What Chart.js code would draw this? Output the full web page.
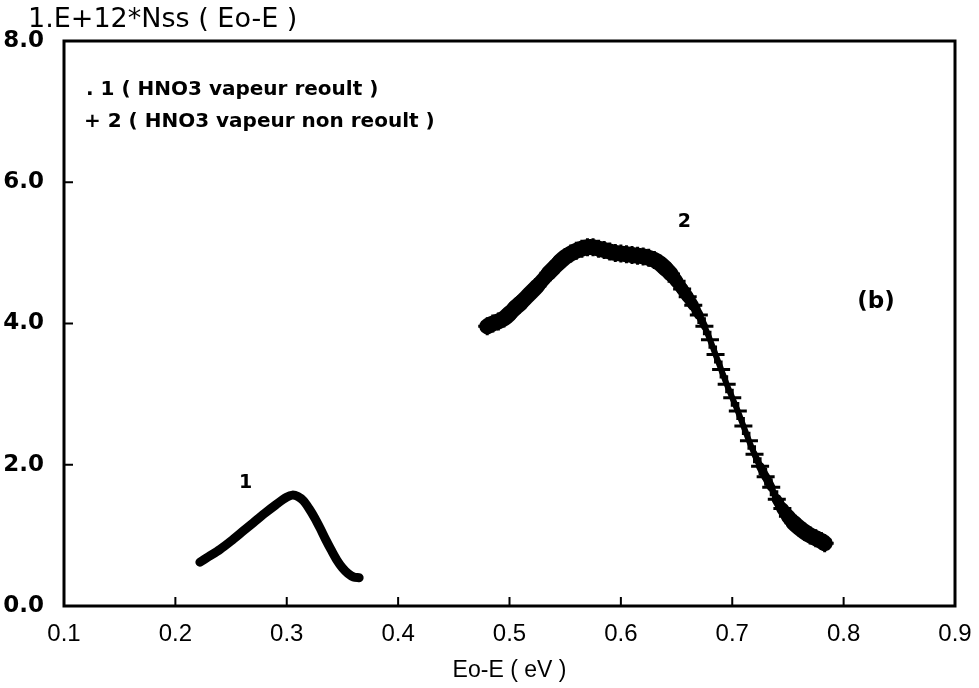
<html lang="fr">
<head>
  <meta charset="UTF-8">
  <title>Nss</title>
  <script src="https://cdn.jsdelivr.net/npm/chart.js"></script>
  <style>
    body { margin: 0; background: #fff; }
    canvas { display: block; }
  </style>
  <script>
    // curve 1 : HNO3 vapeur reoult (dots)
    const energy1 = [0.222, 0.230, 0.240, 0.250, 0.260, 0.270, 0.280, 0.290, 0.300, 0.305, 0.310,
      0.315, 0.320, 0.325, 0.330, 0.335, 0.340, 0.345, 0.350, 0.355, 0.360, 0.365]
    const nss1 = [0.62, 0.70, 0.80, 0.92, 1.05, 1.18, 1.31, 1.43, 1.54, 1.57, 1.55,
      1.49, 1.38, 1.25, 1.10, 0.94, 0.79, 0.65, 0.54, 0.46, 0.41, 0.40]

    // curve 2 : HNO3 vapeur non reoult (crosses)
    const energy2 = [0.480, 0.485, 0.490, 0.495, 0.500, 0.505, 0.510, 0.515, 0.520, 0.525, 0.530,
      0.535, 0.540, 0.545, 0.550, 0.555, 0.560, 0.565, 0.570, 0.575, 0.580, 0.585, 0.590, 0.595,
      0.600, 0.605, 0.610, 0.615, 0.620, 0.625, 0.630, 0.635, 0.640, 0.645, 0.650, 0.655, 0.660,
      0.665, 0.670, 0.675, 0.680, 0.685, 0.690, 0.695, 0.700, 0.705, 0.710, 0.715, 0.720, 0.725,
      0.730, 0.735, 0.740, 0.745, 0.750, 0.755, 0.760, 0.765, 0.770, 0.775, 0.780, 0.783]
    const nss2 = [3.96, 4.00, 4.03, 4.07, 4.14, 4.22, 4.29, 4.37, 4.45, 4.53, 4.62,
      4.71, 4.79, 4.87, 4.94, 4.99, 5.03, 5.06, 5.08, 5.08, 5.06, 5.04, 5.02, 5.00,
      4.99, 4.98, 4.97, 4.96, 4.95, 4.93, 4.90, 4.85, 4.78, 4.70, 4.60, 4.49, 4.38,
      4.26, 4.12, 3.96, 3.77, 3.56, 3.35, 3.14, 2.95, 2.76, 2.55, 2.34, 2.15, 1.98,
      1.83, 1.68, 1.51, 1.38, 1.27, 1.18, 1.11, 1.05, 1.00, 0.96, 0.92, 0.89]

    const xTicks = [0.1, 0.2, 0.3, 0.4, 0.5, 0.6, 0.7, 0.8, 0.9]
    const yTicks = [0, 2, 4, 6, 8]

    const yTitle = '1.E+12*Nss ( Eo-E )'
    const xTitle = 'Eo-E ( eV )'
    const legendLines = ['. 1 ( HNO3 vapeur reoult )', '+ 2 ( HNO3 vapeur non reoult )']

    // band of crowded crosses: wide where the curve is flat, thin where it is steep
    function bandWidth(c) {
      const s = Math.abs(c.p1.parsed.y - c.p0.parsed.y) / Math.abs(c.p1.parsed.x - c.p0.parsed.x)
      const t = Math.min(1, Math.max(0, (s - 15) / 20))
      return 16 - t * 10
    }

    // frame, inward ticks and the text annotations
    const frame = {
      id: 'frame',
      afterDraw(chart) {
        const { ctx, chartArea: a, scales: { x, y } } = chart
        ctx.save()
        ctx.strokeStyle = '#000'
        ctx.lineWidth = 3
        ctx.strokeRect(a.left, a.top, a.right - a.left, a.bottom - a.top)
        ctx.lineWidth = 2
        ctx.beginPath()
        xTicks.slice(1, -1).forEach(v => {
          const px = x.getPixelForValue(v)
          ctx.moveTo(px, a.bottom)
          ctx.lineTo(px, a.bottom - 9)
        })
        yTicks.slice(1, -1).forEach(v => {
          const py = y.getPixelForValue(v)
          ctx.moveTo(a.left, py)
          ctx.lineTo(a.left + 9, py)
        })
        ctx.stroke()

        ctx.fillStyle = '#000'
        ctx.textBaseline = 'middle'
        ctx.textAlign = 'left'
        ctx.font = '27px "DejaVu Sans"'
        ctx.fillText(yTitle, 28, 20)

        ctx.font = 'bold 20px "DejaVu Sans"'
        ctx.fillText(legendLines[0], a.left + 22, 90)
        ctx.fillText(legendLines[1], a.left + 20, 122)

        ctx.textAlign = 'center'
        ctx.font = 'bold 19px "DejaVu Sans"'
        ctx.fillText('1', x.getPixelForValue(0.263), y.getPixelForValue(1.74))
        ctx.fillText('2', x.getPixelForValue(0.657), y.getPixelForValue(5.44))
        ctx.font = 'bold 23px "DejaVu Sans"'
        ctx.fillText('(b)', x.getPixelForValue(0.829), y.getPixelForValue(4.31))
        ctx.restore()
      }
    }

    window.onload = () => {
      const viz = document.getElementById('viz')

      new Chart(viz, {
        type: 'line',
        data: {
          datasets: [{
            label: legendLines[0],
            data: energy1.map((e, i) => ({ x: e, y: nss1[i] })),
            borderColor: '#000',
            borderWidth: 9,
            borderCapStyle: 'round',
            borderJoinStyle: 'round',
            pointRadius: 0,
            tension: 0.3
          }, {
            label: legendLines[1],
            data: energy2.map((e, i) => ({ x: e, y: nss2[i] })),
            borderColor: '#000',
            borderWidth: 6,
            borderCapStyle: 'round',
            borderJoinStyle: 'round',
            segment: { borderWidth: bandWidth },
            pointStyle: 'cross',
            pointRadius: 9,
            pointBorderWidth: 3,
            pointBorderColor: '#000',
            tension: 0.3
          }]
        },
        options: {
          responsive: false,
          animation: false,
          layout: { padding: { top: 41, right: 24, left: 0, bottom: 0 } },
          plugins: {
            legend: { display: false },
            tooltip: { enabled: false }
          },
          scales: {
            x: {
              type: 'linear',
              min: 0.1,
              max: 0.9,
              afterFit: s => { s.height = 82 },
              afterBuildTicks: s => { s.ticks = xTicks.map(v => ({ value: v })) },
              grid: { display: false },
              border: { display: false },
              ticks: {
                padding: 6,
                color: '#000',
                font: { family: 'Liberation Sans', size: 24 },
                callback: v => v.toFixed(1)
              },
              title: {
                display: true,
                text: xTitle,
                color: '#000',
                padding: { top: 2 },
                font: { family: 'Liberation Sans', size: 23 }
              }
            },
            y: {
              min: 0,
              max: 8,
              afterFit: s => { s.width = 64 },
              afterBuildTicks: s => { s.ticks = yTicks.map(v => ({ value: v })) },
              grid: { display: false },
              border: { display: false },
              ticks: {
                padding: 12,
                color: '#000',
                font: { family: 'DejaVu Sans', size: 23, weight: 'bold' },
                callback: v => v.toFixed(1)
              }
            }
          }
        },
        plugins: [frame]
      })
    }
  </script>
</head>
<body>
  <canvas id="viz" width="979" height="688"></canvas>
</body>
</html>
